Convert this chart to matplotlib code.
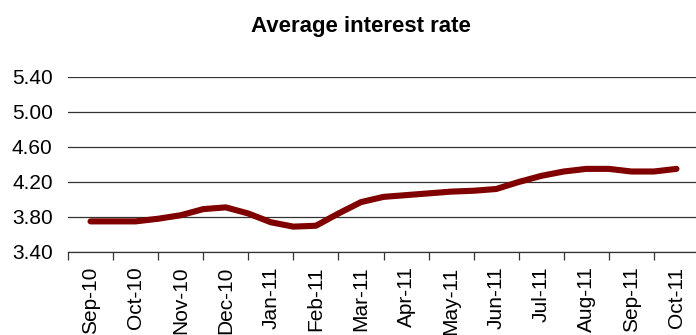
import numpy as np
import matplotlib.pyplot as plt

plt.rcParams['font.family'] = ['Liberation Sans', 'DejaVu Sans']

months = ['Sep-10', 'Oct-10', 'Nov-10', 'Dec-10', 'Jan-11', 'Feb-11', 'Mar-11',
          'Apr-11', 'May-11', 'Jun-11', 'Jul-11', 'Aug-11', 'Sep-11', 'Oct-11']

# semi-monthly readings, Sep-10 .. Oct-11
rates = [3.75, 3.75, 3.75, 3.78, 3.82, 3.89, 3.91, 3.84, 3.74, 3.69,
         3.70, 3.84, 3.97, 4.03, 4.05, 4.07, 4.09, 4.10, 4.12, 4.20,
         4.27, 4.32, 4.35, 4.35, 4.32, 4.32, 4.35]

yticks = [3.40, 3.80, 4.20, 4.60, 5.00, 5.40]

fig = plt.figure(figsize=(6.96, 3.35), dpi=100)
ax = fig.add_axes([68 / 696, 83 / 335, 631 / 696, 175 / 335])

x = np.arange(len(rates)) / 2
ax.plot(x, rates, color='#800000', lw=4.4, solid_capstyle='round',
        solid_joinstyle='round', zorder=3)

ax.set_ylim(3.40, 5.40)
ax.set_yticks(yticks)
ax.set_yticklabels([f'{v:.2f}' for v in yticks], fontsize=15)
ax.yaxis.grid(True, color='#333333', lw=0.9)
ax.set_axisbelow(True)
ax.tick_params(axis='y', length=0, pad=11)

ax.set_xlim(-0.5, len(months) - 0.5)
ax.set_xticks(np.arange(len(months) + 1) - 0.5)
ax.set_xticklabels([])
ax.set_xticks(np.arange(len(months)), minor=True)
ax.set_xticklabels(months, minor=True, rotation=90, fontsize=15)
ax.tick_params(axis='x', which='major', length=6, width=0.9, color='#333333', direction='out')
ax.tick_params(axis='x', which='minor', length=0, pad=10.5)

for s in ['top', 'right', 'left']:
    ax.spines[s].set_visible(False)
ax.spines['bottom'].set_color('#333333')
ax.spines['bottom'].set_linewidth(0.9)

fig.text(0.519, (335 - 31.7) / 335, 'Average interest rate', ha='center', va='baseline',
         fontsize=16, fontweight='bold')

fig.savefig('out.png', dpi=100)
